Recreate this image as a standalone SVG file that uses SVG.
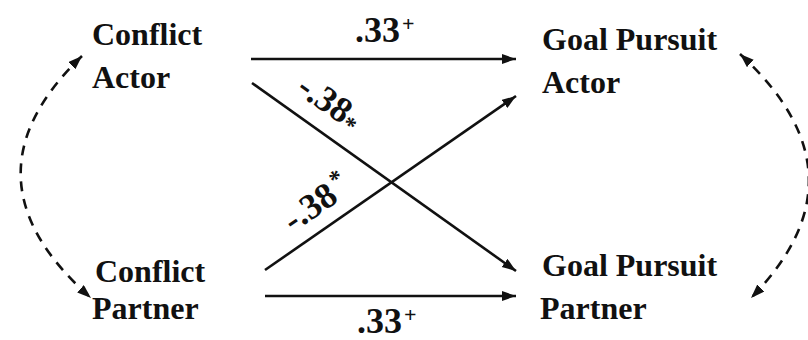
<svg xmlns="http://www.w3.org/2000/svg" width="808" height="340" viewBox="0 0 808 340">
<style>
.t{font-family:"Liberation Serif","Times New Roman",serif;font-weight:bold;font-size:32px;fill:#111}
.l{font-family:"Liberation Serif","Times New Roman",serif;font-weight:bold;font-size:36px;fill:#111}
.s{font-family:"Liberation Serif","Times New Roman",serif;font-weight:bold;font-size:22px;fill:#111}
.a{stroke:#111;stroke-width:2.6;fill:none}
.d{stroke:#111;stroke-width:2.6;fill:none;stroke-dasharray:10 8}
</style>
<defs>
<marker id="ah" markerUnits="userSpaceOnUse" markerWidth="16" markerHeight="12" refX="14" refY="5" orient="auto-start-reverse">
<path d="M0,0 L14,5 L0,10 z" fill="#111"/>
</marker>
</defs>
<rect width="808" height="340" fill="#fff"/>
<g id="conflict-actor"><text class="t" x="92" y="45">Conflict</text><text class="t" x="92" y="88">Actor</text></g>
<g id="conflict-partner"><text class="t" x="95" y="282">Conflict</text><text class="t" x="92" y="319">Partner</text></g>
<g id="goal-actor"><text class="t" x="542" y="50">Goal Pursuit</text><text class="t" x="542" y="93">Actor</text></g>
<g id="goal-partner"><text class="t" x="542" y="276">Goal Pursuit</text><text class="t" x="540" y="319">Partner</text></g>
<g id="connectors">
<line class="a" x1="251" y1="59" x2="516" y2="59" marker-end="url(#ah)"/>
<line class="a" x1="265" y1="296" x2="516" y2="296" marker-end="url(#ah)"/>
<line class="a" x1="252" y1="83" x2="516" y2="271" marker-end="url(#ah)"/>
<line class="a" x1="265" y1="270" x2="516" y2="96" marker-end="url(#ah)"/>
<path class="d" d="M82,56 Q-45,178 91,298" marker-start="url(#ah)" marker-end="url(#ah)"/>
<path class="d" d="M740,54 Q872,175 751,298" marker-start="url(#ah)" marker-end="url(#ah)"/>
<text class="l" x="355" y="42">.33</text><text class="s" x="402" y="31">+</text>
<text class="l" x="357" y="333">.33</text><text class="s" x="404" y="322">+</text>
<text class="l" transform="translate(295,92) rotate(35)">-.38<tspan font-size="24" dy="4">*</tspan></text>
<text class="l" transform="translate(293,233) rotate(-35)">-.38<tspan font-size="24" dx="4" dy="-12">*</tspan></text>
</g>
</svg>
